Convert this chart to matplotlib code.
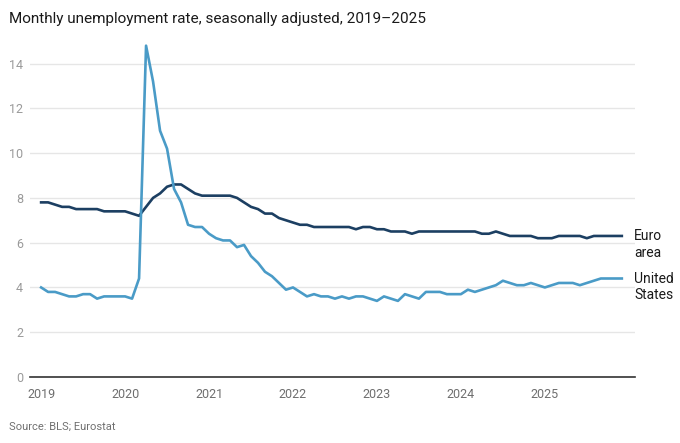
import matplotlib
matplotlib.use("Agg")
import matplotlib.pyplot as plt
import numpy as np

plt.rcParams["font.family"] = ["Roboto", "DejaVu Sans"]

# ── Data (monthly, Jan 2019 – Dec 2025) ──────────────
years = [2019, 2020, 2021, 2022, 2023, 2024, 2025]

us_rate = [
    4.0, 3.8, 3.8, 3.7, 3.6, 3.6, 3.7, 3.7, 3.5, 3.6, 3.6, 3.6,       # 2019
    3.6, 3.5, 4.4, 14.8, 13.2, 11.0, 10.2, 8.4, 7.8, 6.8, 6.7, 6.7,   # 2020
    6.4, 6.2, 6.1, 6.1, 5.8, 5.9, 5.4, 5.1, 4.7, 4.5, 4.2, 3.9,       # 2021
    4.0, 3.8, 3.6, 3.7, 3.6, 3.6, 3.5, 3.6, 3.5, 3.6, 3.6, 3.5,       # 2022
    3.4, 3.6, 3.5, 3.4, 3.7, 3.6, 3.5, 3.8, 3.8, 3.8, 3.7, 3.7,       # 2023
    3.7, 3.9, 3.8, 3.9, 4.0, 4.1, 4.3, 4.2, 4.1, 4.1, 4.2, 4.1,       # 2024
    4.0, 4.1, 4.2, 4.2, 4.2, 4.1, 4.2, 4.3, 4.4, 4.4, 4.4, 4.4,       # 2025
]

euro_rate = [
    7.8, 7.8, 7.7, 7.6, 7.6, 7.5, 7.5, 7.5, 7.5, 7.4, 7.4, 7.4,       # 2019
    7.4, 7.3, 7.2, 7.6, 8.0, 8.2, 8.5, 8.6, 8.6, 8.4, 8.2, 8.1,       # 2020
    8.1, 8.1, 8.1, 8.1, 8.0, 7.8, 7.6, 7.5, 7.3, 7.3, 7.1, 7.0,       # 2021
    6.9, 6.8, 6.8, 6.7, 6.7, 6.7, 6.7, 6.7, 6.7, 6.6, 6.7, 6.7,       # 2022
    6.6, 6.6, 6.5, 6.5, 6.5, 6.4, 6.5, 6.5, 6.5, 6.5, 6.5, 6.5,       # 2023
    6.5, 6.5, 6.5, 6.4, 6.4, 6.5, 6.4, 6.3, 6.3, 6.3, 6.3, 6.2,       # 2024
    6.2, 6.2, 6.3, 6.3, 6.3, 6.3, 6.2, 6.3, 6.3, 6.3, 6.3, 6.3,       # 2025
]

months = np.arange(len(us_rate))  # months since Jan 2019

# ── Style ────────────────────────────────────────────
US_BLUE = "#4a9bc7"
EURO_NAVY = "#1c3f62"
GRID = "#e6e6e6"
INK = "#1a1a1a"

fig = plt.figure(figsize=(6.8, 4.43), dpi=100)
ax = fig.add_axes([0.044, 0.149, 0.890, 0.758])

ax.plot(months, euro_rate, color=EURO_NAVY, lw=1.9, solid_joinstyle="round", zorder=3)
ax.plot(months, us_rate, color=US_BLUE, lw=1.9, solid_joinstyle="round", zorder=4)

ax.set_xlim(-1.6, 84.9)
ax.set_ylim(0, 15)

ax.set_yticks(range(0, 15, 2))
ax.set_xticks([(y - 2019) * 12 for y in years])
ax.set_xticklabels([str(y) for y in years])

ax.grid(axis="y", color=GRID, lw=1.0, zorder=0)
ax.set_axisbelow(True)
for s in ["top", "right", "left"]:
    ax.spines[s].set_visible(False)
ax.spines["bottom"].set_color("#333333")
ax.spines["bottom"].set_linewidth(1.2)
ax.spines["bottom"].set_zorder(5)

ax.tick_params(axis="x", length=0, pad=8, labelsize=9, labelcolor="#6e6e6e")
ax.tick_params(axis="y", length=0, pad=5, labelsize=9, labelcolor="#9a9a9a")

# End labels: first line sits level with the line's last value
for vals, label in [(euro_rate, "Euro\narea"), (us_rate, "United\nStates")]:
    ax.annotate(label, xy=(months[-1], vals[-1]), xytext=(9, 5),
                textcoords="offset points", ha="left", va="top",
                fontsize=10, color=INK, linespacing=1.25, annotation_clip=False)

fig.text(0.013, 0.958, "Monthly unemployment rate, seasonally adjusted, 2019\u20132025",
         ha="left", va="center", fontsize=11, color=INK)
fig.text(0.013, 0.036, "Source: BLS; Eurostat", ha="left", va="center",
         fontsize=8, color="#707070")

fig.savefig("out.png", dpi=100)
